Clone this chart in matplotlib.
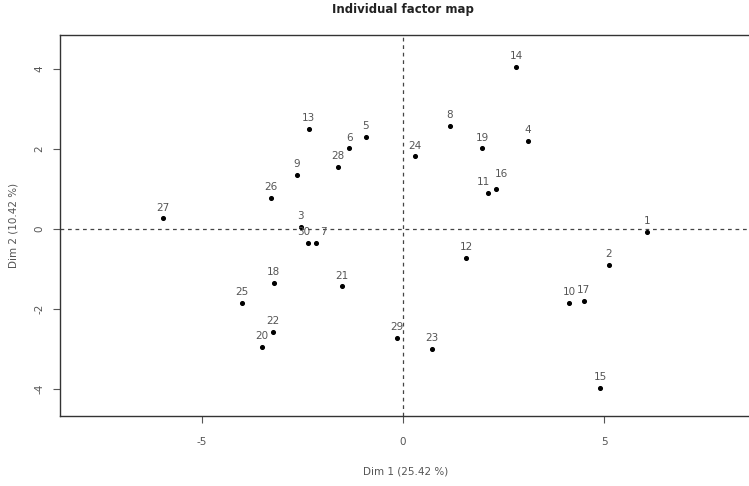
import matplotlib
matplotlib.use("Agg")
import matplotlib.pyplot as plt

labels = [str(i) for i in range(1, 31)]
dim1 = [6.07, 5.12, -2.54, 3.11, -0.92, -1.34, -2.16, 1.17, -2.64, 4.13,
        2.11, 1.57, -2.34, 2.81, 4.90, 2.31, 4.50, -3.21, 1.97, -3.50,
        -1.52, -3.23, 0.72, 0.30, -4.00, -3.28, -5.97, -1.62, -0.15, -2.36]
dim2 = [-0.07, -0.90, 0.05, 2.20, 2.30, 2.02, -0.35, 2.58, 1.35, -1.85,
        0.90, -0.72, 2.50, 4.05, -3.97, 1.00, -1.80, -1.35, 2.02, -2.95,
        -1.43, -2.58, -3.00, 1.82, -1.85, 0.78, 0.27, 1.55, -2.73, -0.35]
xticks = [-5, 0, 5]
yticks = [-4, -2, 0, 2, 4]

W, H = 749, 486
fig = plt.figure(figsize=(W / 100, H / 100), dpi=100)
left, right, top, bottom = 60, 752, 35, 416
ax = fig.add_axes([left / W, 1 - bottom / H, (right - left) / W, (bottom - top) / H])

ax.set_xlim(-8.53, 8.68)
ax.set_ylim(-4.68, 4.85)

ax.axhline(0, color="#444444", lw=0.9, ls=(0, (3, 3)))
ax.axvline(0, color="#444444", lw=0.9, ls=(0, (3, 3)))

ax.scatter(dim1, dim2, s=7, color="black", zorder=3)
# small label nudges (points) to limit overlap of crowded labels
nudge = {"30": (-3, 4), "7": (5, 4), "11": (-3, 4), "16": (4, 7)}
for lab, x, y in zip(labels, dim1, dim2):
    off = nudge.get(lab, (0, 4))
    ax.annotate(lab, (x, y), xytext=off, textcoords="offset points",
                ha="center", va="bottom", fontsize=7.5, color="#555555")

ax.set_xticks(xticks)
ax.set_yticks(yticks)
ax.set_xticklabels([str(t) for t in xticks], fontsize=7.5, color="#555555")
ax.set_yticklabels([str(t) for t in yticks], fontsize=7.5, color="#555555",
                   rotation=90, va="center")
ax.tick_params(axis="x", length=5, width=0.8, color="#555555", pad=10)
ax.tick_params(axis="y", length=5, width=0.8, color="#555555", pad=6)
for s in ["left", "bottom", "top"]:
    ax.spines[s].set_color("#333333")
    ax.spines[s].set_linewidth(1.0)
ax.spines["right"].set_visible(False)

ax.set_xlabel("Dim 1 (25.42 %)", fontsize=7.5, color="#555555", labelpad=14)
ax.set_ylabel("Dim 2 (10.42 %)", fontsize=7.5, color="#555555", labelpad=12)
fig.text(403 / W, 1 - 10 / H, "Individual factor map", ha="center", va="center",
         fontsize=8.5, fontweight="bold", color="#222222")

fig.savefig("out.png", dpi=100)
